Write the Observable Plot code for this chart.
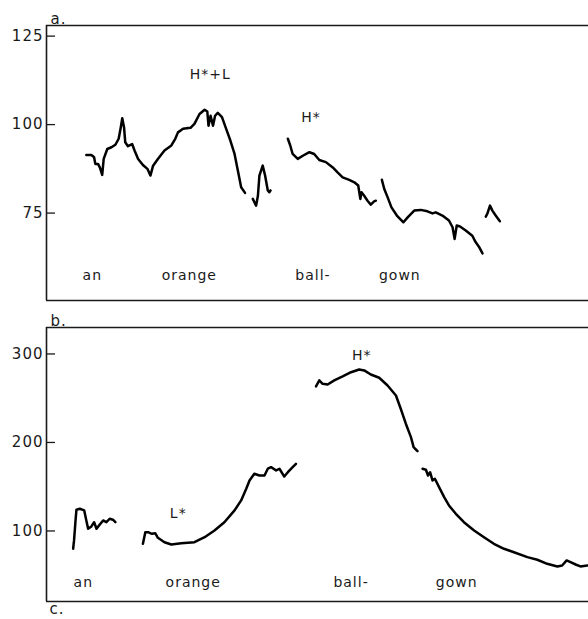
<!DOCTYPE html>
<html><head><meta charset="utf-8">
<script src="https://cdn.jsdelivr.net/npm/d3@7"></script>
<script src="https://cdn.jsdelivr.net/npm/@observablehq/plot@0.6"></script>
<style>
body{margin:0;background:#fff;}
#chart svg{display:block;}
</style></head><body><div id="chart"></div>
<script>
// time in centiseconds, F0 in Hz
// Panel a: "an orange ball-gown" (H*+L ... H*)
const a1 = [[13.3,91.4],[15,91.4],[15.9,90.8],[16.3,88.9],[17.2,88.9],[17.8,87.9],[18.6,85.8],[19.1,90.3],[20.3,93.1],[21.7,93.6],[23,94.3],[24.1,96.0],[24.8,99.2],[25.3,101.8],[25.9,99.2],[26.3,95.0],[27.2,93.9],[28.6,94.5],[29.4,92.7],[30.6,90.3],[32.2,88.6],[33.7,87.5],[34.7,85.6],[35.6,88.4],[37.2,90.3],[39.4,92.7],[41.7,94.1],[43,96.0],[43.9,97.8],[45.6,98.8],[48.1,99.1],[49.4,100.2],[51.1,103.0],[52.8,104.2],[53.7,103.7],[54.1,99.7],[54.8,102.5],[55.6,99.7],[56.3,102.5],[57.2,103.3],[58.6,102.1],[60,98.8],[61.4,95.5],[62.8,91.7],[63.9,87.0],[65,82.3],[66.3,80.7]];
const a2 = [[68.9,79.0],[70,77.1],[70.6,79.9],[71.1,85.6],[72.2,88.4],[73,85.6],[73.9,81.4],[74.4,80.9],[74.8,81.4]];
const a3 = [[80.6,96.0],[81.4,94.1],[82.2,91.7],[83.9,90.3],[85.6,91.2],[87.8,92.2],[89.4,91.7],[91.1,90.0],[93.3,89.4],[95.6,87.9],[97.2,86.5],[98.9,85.1],[101.1,84.4],[102.8,83.7],[104.1,82.8],[104.8,79.0],[105.2,80.9],[106.1,79.9],[107.2,78.5],[108.3,77.4],[109.4,78.3],[110,78.5]];
const a4 = [[112,84.4],[112.8,81.8],[113.9,79.5],[115.2,76.6],[117,74.3],[119.2,72.4],[120.6,73.8],[122.8,75.7],[125,75.9],[127.2,75.5],[128.9,74.9],[130,75.2],[132.2,74.3],[134.4,72.9],[135.6,71.0],[136.3,67.7],[137,71.5],[138.1,71.2],[140,70.1],[142.2,68.6],[143.3,66.8],[144.4,65.5],[145.6,63.6]];
const a5 = [[146.7,74.0],[147.2,74.8],[148.1,77.1],[148.9,75.7],[150,74.3],[151.4,72.7]];
const aTicks = [75, 100, 125];
const aWords = ["an", "orange", "ball-", "gown"];
const aWordTimes = [15.3, 47.7, 89, 118];
const aAccents = ["H*+L", "H*"];
const aAccentTimes = [54.7, 88.3];
const aAccentF0 = [114.1, 102.0];

// Panel b: "an orange ball-gown" (L* ... H*)
const b1 = [[8.9,79.9],[9.2,89.3],[9.7,111.9],[10,124],[11.1,125.1],[12.6,123.2],[13.3,111.9],[13.9,102.5],[15,105.1],[15.9,109.9],[16.7,102.5],[17.8,107.3],[18.9,111.9],[20,109.9],[21.1,113.8],[22.2,112.7],[23,109.9]];
const b2 = [[32.2,85.5],[33,98.6],[33.9,98.6],[35.2,96.8],[36.3,97.5],[37.2,92.3],[39.4,87.3],[41.7,84.7],[45,86.2],[49.4,87.3],[52.8,93.0],[56.1,100.6],[59.4,109.9],[62.8,123.2],[65,134.5],[66.7,147.7],[67.8,157.1],[69.4,164.6],[71.1,162.7],[72.8,162.7],[73.9,170.3],[75,172.1],[76.7,168.4],[77.8,170.3],[79.4,161.5],[80.6,166.4],[82.2,172.1],[83.3,175.9]];
const b3 = [[90,263.3],[91.1,270.1],[92.2,266.3],[93.9,265.5],[96.1,270.1],[98.9,274.6],[101.7,279.4],[104.4,282.5],[106.1,281.4],[108.3,276.8],[111.1,273.1],[113.9,264.4],[116.7,253.1],[118.3,238.1],[120,221.2],[121.7,206.0],[122.6,194.8],[123.1,192.9],[123.9,190.2]];
const b4 = [[125.6,170.3],[126.7,169.2],[127.4,162.7],[128.1,166.4],[128.9,157.1],[129.7,159.0],[131.1,149.5],[132.8,138.2],[134.4,128.8],[136.7,119.4],[139.4,109.9],[142.8,100.6],[146.1,93.0],[149.4,85.5],[152.8,79.9],[156.1,76.0],[160.6,70.4],[163.9,67.5],[167.2,62.9],[170.6,59.9],[172.2,61.0],[173.7,66.7],[175,64.7],[176.7,62.1],[178.3,59.9],[180.6,61.0]];
const bTicks = [100, 200, 300];
const bWords = ["an", "orange", "ball-", "gown"];
const bWordTimes = [12.3, 49, 101.7, 137];
const bAccents = ["L*", "H*"];
const bAccentTimes = [44, 105.3];
const bAccentF0 = [119.8, 298.3];

const timeDomain = [0, 181];
const INK = "#1a1a1a";
const FONT = "DejaVu Sans, sans-serif";

function rowsOf(segs) {
  return segs.flatMap((s, i) => s.map(([t, v]) => ({t, v, seg: i})));
}

function panel({segs, yDomain, ticks, words, wordTimes, wordDy, accents, accentTimes, accentF0, label, footLabel, height, marginBottom}) {
  const marks = [
    Plot.ruleY([yDomain[1]], {stroke: INK, strokeWidth: 1.6}),
    Plot.ruleY([yDomain[0]], {stroke: INK, strokeWidth: 1.6}),
    Plot.ruleX([timeDomain[0]], {stroke: INK, strokeWidth: 1.6}),
    Plot.axisY(ticks, {label: null, tickSize: -9, tickPadding: 12, fontSize: 15, strokeWidth: 1.3, color: INK}),
    Plot.line(rowsOf(segs), {x: "t", y: "v", z: "seg", stroke: "#000", strokeWidth: 2.5, strokeLinejoin: "round", strokeLinecap: "round"}),
    Plot.text(words, {x: (d, i) => wordTimes[i], text: d => d, frameAnchor: "bottom", dy: wordDy, fontSize: 14, fill: INK}),
    Plot.text(accents, {x: (d, i) => accentTimes[i], y: (d, i) => accentF0[i], text: d => d, fontSize: 14, fill: INK}),
    Plot.text([label], {frameAnchor: "top-left", dx: 4, dy: -12, textAnchor: "start", fontSize: 15, fill: INK})
  ];
  if (footLabel) marks.push(Plot.text([footLabel], {frameAnchor: "bottom-left", dx: 3, dy: 12, textAnchor: "start", fontSize: 15, fill: INK}));
  return Plot.plot({
    width: 588,
    height,
    marginTop: 25,
    marginBottom,
    marginLeft: 46,
    marginRight: 0,
    style: {fontFamily: FONT, fontSize: "14px", letterSpacing: "1px", background: "#fff", color: INK},
    x: {domain: timeDomain, axis: null},
    y: {domain: yDomain, axis: null},
    marks
  });
}

const root = document.getElementById("chart");
root.appendChild(panel({
  segs: [a1, a2, a3, a4, a5], yDomain: [50.3, 128], ticks: aTicks,
  words: aWords, wordTimes: aWordTimes, wordDy: -21,
  accents: aAccents, accentTimes: aAccentTimes, accentF0: aAccentF0,
  label: "a.", height: 302, marginBottom: 2
}));
root.appendChild(panel({
  segs: [b1, b2, b3, b4], yDomain: [20.3, 329.9], ticks: bTicks,
  words: bWords, wordTimes: bWordTimes, wordDy: -15,
  accents: bAccents, accentTimes: bAccentTimes, accentF0: bAccentF0,
  label: "b.", footLabel: "c.", height: 317, marginBottom: 18
}));
</script>
</body></html>
